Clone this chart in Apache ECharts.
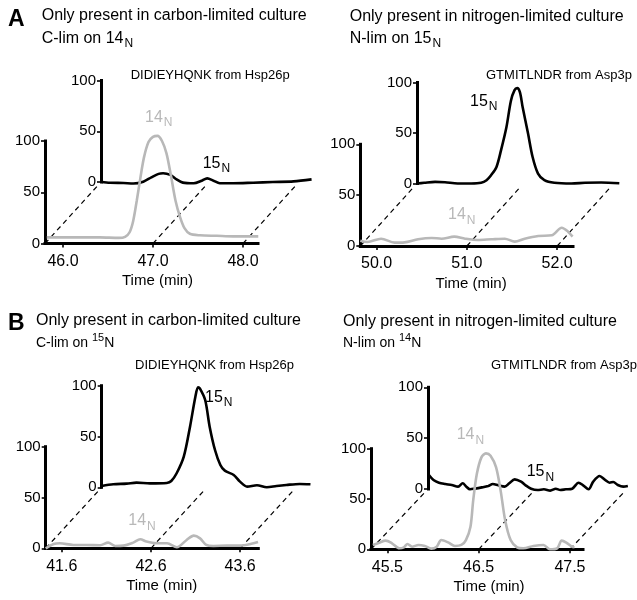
<!DOCTYPE html>
<html><head><meta charset="utf-8">
<script src="https://cdn.jsdelivr.net/npm/echarts@6/dist/echarts.min.js"></script>
<style>html,body{margin:0;padding:0;background:#fff}#c{width:637px;height:600px}</style>
</head><body><div id="c"></div>
<script>
// ---------------- DATA ----------------
const aLeftTicks = [46.0, 47.0, 48.0];
const aLeft14Time = [45.82,46.04,46.41,46.62,46.69,46.74,46.78,46.82,46.86,46.90,46.95,47.0,47.05,47.10,47.15,47.20,47.25,47.30,47.35,47.41,47.52,47.71,47.89,48.17];
const aLeft14Int  = [6,6,6,5.5,6.5,11,22,42,64,84,99,104,105,100,88,66,42,26,15,9.5,8,7.5,7,7];
const aLeft15Time = [45.8,45.9,46.05,46.16,46.27,46.36,46.44,46.49,46.57,46.64,46.71,46.83,46.92,46.98,47.05,47.12,47.27,47.49,47.71,47.94,48.14];
const aLeft15Int  = [0.3,-0.7,-1,-1.5,0.3,4.6,8,8.6,7,2.6,-0.6,-1.3,1.3,3.6,1.3,-1.3,-1.3,-0.7,0,0.6,2.6];

const aRightTicks = [50.0, 51.0, 52.0];
const aRight14Time = [49.82,49.90,50.05,50.20,50.31,50.46,50.61,50.72,50.86,50.98,51.12,51.27,51.42,51.53,51.64,51.79,51.94,52.05,52.12,52.17];
const aRight14Int  = [5.2,3.9,7.2,3.3,3.6,6.6,7.9,7.2,9.2,7.2,5.9,6.6,7.2,4.3,7.2,9.8,10.5,18,14.1,9.2];
const aRight15Time = [49.82,49.90,50.02,50.13,50.27,50.42,50.53,50.59,50.64,50.70,50.75,50.81,50.86,50.90,50.93,50.96,50.99,51.05,51.10,51.16,51.23,51.34,51.53,51.68,51.86,52.06];
const aRight15Int  = [0,0.7,1.6,1.3,0,0,0.7,3.3,8.2,16.4,32.8,55.7,82,92.5,94.4,90.2,75.4,49.2,26.2,9.8,3.3,0.7,0,0.7,1,0.3];

const bLeftTicks = [41.6, 42.6, 43.6];
const bLeft14Time = [41.42,41.51,41.58,41.73,41.88,42.03,42.12,42.20,42.29,42.40,42.48,42.55,42.66,42.78,42.89,43.0,43.08,43.15,43.22,43.30,43.45,43.60,43.75,43.80];
const bLeft14Int  = [0,4.3,4.9,3.3,3.3,3,5.6,2.3,2.6,5.6,8.9,6.6,4.9,4.9,1,8.2,12.5,9.8,3.3,2.3,2.6,2.6,4.9,6.2];
const bLeft15Time = [41.42,41.55,41.70,41.81,41.96,42.15,42.20,42.26,42.34,42.41,42.47,42.50,42.52,42.58,42.63,42.69,42.75,42.80,42.90,42.97,43.05,43.16,43.27,43.38,43.49,43.64,43.76];
const bLeft15Int  = [1.3,3,3.6,4.6,3.9,4.3,6.2,13.8,30.2,59.7,89.2,98.4,97.4,85.9,59.7,36.7,22,16.4,12.1,5.6,0.7,2,0,1.3,2.3,3.3,3];

const bRightTicks = [45.5, 46.5, 47.5];
const bRight14Time = [45.34,45.41,45.48,45.55,45.63,45.68,45.72,45.77,45.84,45.91,45.98,46.04,46.09,46.17,46.24,46.31,46.36,46.41,46.44,46.48,46.53,46.58,46.63,46.69,46.74,46.79,46.85,46.92,46.99,47.10,47.21,47.28,47.36,47.41,47.46,47.52,47.55];
const bRight14Int  = [4.3,6.6,8.6,6,1,2,5.3,2.6,4.3,3.3,0.7,2.6,9.2,6.6,3.3,4.3,9.2,22.4,48.7,75,91.4,95.4,93.1,81.6,58.6,28.9,9.2,2,1,3.3,4.3,0,1,8.6,6.6,2.6,2];
const bRight15Time = [45.33,45.38,45.44,45.51,45.58,45.65,45.70,45.74,45.78,45.83,45.91,45.98,46.03,46.09,46.16,46.21,46.27,46.34,46.39,46.45,46.52,46.59,46.66,46.72,46.77,46.83,46.90,46.97,47.02,47.08,47.13,47.20,47.26,47.31,47.35,47.40,47.46,47.51];
const bRight15Int  = [13.8,8.9,6.2,4.9,3.9,2.3,5.6,2.3,-0.3,0.3,1.6,3,4.9,3.6,2.3,5.6,9.5,7.2,3.6,0.3,-1,-0.3,-1.6,0.3,-1,-0.3,0.3,6.2,3.6,-0.3,7.2,12.8,8.9,6.2,6.9,3.9,2.3,3];

const yTicks = [0, 50, 100];
const panelTitles = ['Only present in carbon-limited culture','Only present in nitrogen-limited culture','Only present in carbon-limited culture','Only present in nitrogen-limited culture'];
const peptides = ['DIDIEYHQNK from Hsp26p','GTMITLNDR from Asp3p','DIDIEYHQNK from Hsp26p','GTMITLNDR from Asp3p'];
const xName = 'Time (min)';

// ---------------- LAYOUT / STYLE ----------------
const FONT = '"Liberation Sans", Arial, Helvetica, sans-serif';
const GRAY = '#b8b8b8';
const BLACK = '#000';
const panels = [
  {front:[45,141,213,102.5], back:[101,80.5,213,101.5], xmin:45.8, xmax:48.167, ticks:aLeftTicks, nameShift:6,
   frontSeries:[aLeft14Time,aLeft14Int], backSeries:[aLeft15Time,aLeft15Int]},
  {front:[360.3,144.3,212.7,101.7], back:[417,82.5,212.7,101], xmin:49.82, xmax:52.175, ticks:aRightTicks, nameShift:4.5,
   frontSeries:[aRight14Time,aRight14Int], backSeries:[aRight15Time,aRight15Int]},
  {front:[45.7,446.7,212.6,101.6], back:[101.7,385.7,212.6,101.6], xmin:41.42, xmax:43.803, ticks:bLeftTicks, nameShift:9.7,
   frontSeries:[bLeft14Time,bLeft14Int], backSeries:[bLeft15Time,bLeft15Int]},
  {front:[371,448.7,212,100.6], back:[428,387.3,212,101.7], xmin:45.32, xmax:47.643, ticks:bRightTicks, nameShift:12,
   frontSeries:[bRight14Time,bRight14Int], backSeries:[bRight15Time,bRight15Int]},
];

const zip = (a, b) => a.map((v, i) => [v, b[i]]);
const grids = [], xAxes = [], yAxes = [], series = [];
const yAxisBase = (gi) => ({
  type:'value', gridIndex:gi, min:yTicks[0], max:yTicks[2], interval:yTicks[1] - yTicks[0],
  axisLine:{show:true, onZero:false, lineStyle:{color:BLACK, width:3, cap:'square'}},
  axisTick:{show:true, length:4, lineStyle:{color:BLACK, width:1.6}},
  axisLabel:{color:BLACK, fontSize:15, fontFamily:FONT, margin:5},
  splitLine:{show:false}
});
panels.forEach((p, k) => {
  const fi = k * 2, bi = k * 2 + 1;
  grids.push({left:p.front[0], top:p.front[1], width:p.front[2], height:p.front[3], outerBoundsMode:'none'});
  grids.push({left:p.back[0], top:p.back[1], width:p.back[2], height:p.back[3], outerBoundsMode:'none'});
  xAxes.push({
    type:'value', gridIndex:fi, min:p.xmin, max:p.xmax,
    axisLine:{show:true, onZero:false, lineStyle:{color:BLACK, width:3, cap:'square'}},
    axisTick:{show:true, length:4, customValues:p.ticks, lineStyle:{color:BLACK, width:1.6}},
    axisLabel:{customValues:p.ticks, formatter:(v)=>Number(v).toFixed(1), color:BLACK, fontSize:16, fontFamily:FONT, margin:10},
    splitLine:{show:false},
    name:xName, nameLocation:'middle', nameGap:30,
    nameTextStyle:{color:BLACK, fontSize:15, fontFamily:FONT, padding:[0,0,0,p.nameShift*2]}
  });
  xAxes.push({type:'value', gridIndex:bi, min:p.xmin, max:p.xmax, show:false});
  yAxes.push(yAxisBase(fi));
  yAxes.push(yAxisBase(bi));
  series.push({type:'line', xAxisIndex:bi, yAxisIndex:bi, data:zip(p.backSeries[0], p.backSeries[1]),
    showSymbol:false, symbol:'none', smooth:0.3, clip:false, z:3, silent:true,
    lineStyle:{color:BLACK, width:2.6}});
  series.push({type:'line', xAxisIndex:fi, yAxisIndex:fi, data:zip(p.frontSeries[0], p.frontSeries[1]),
    showSymbol:false, symbol:'none', smooth:0.3, clip:false, z:4, silent:true,
    lineStyle:{color:GRAY, width:2.6}});
});

const chart = echarts.init(document.getElementById('c'), null, {renderer:'canvas'});
chart.setOption({
  animation:false,
  backgroundColor:'#fff',
  textStyle:{fontFamily:FONT},
  grid:grids, xAxis:xAxes, yAxis:yAxes, series:series
});

// ---------------- TEXT + DASHED GUIDES ----------------
function txt(x, y, text, size, color, weight) {
  return {type:'text', x:x, y:y, z:10, silent:true,
    style:{text:text, fontSize:size, fontWeight:weight || 'normal', fontFamily:FONT, fill:color, align:'left', verticalAlign:'middle',
      textAlign:'left', textVerticalAlign:'middle'}};
}
function subLabel(x, y, num, color, size) {
  return {type:'text', x:x, y:y, z:10, silent:true,
    style:{text:'{n|' + num + '}{s|N}', fill:color, align:'left', verticalAlign:'middle', textAlign:'left', textVerticalAlign:'middle',
      rich:{n:{fontSize:size || 16, fontFamily:FONT, fill:color}, s:{fontSize:12, fontFamily:FONT, fill:color, padding:[11,0,0,1]}}}};
}
function subTitleSub(x, y, pre, num) {
  return {type:'text', x:x, y:y, z:10, silent:true,
    style:{text:'{n|' + pre + num + '}{s|N}', fill:BLACK, align:'left', verticalAlign:'middle', textAlign:'left', textVerticalAlign:'middle',
      rich:{n:{fontSize:16, fontFamily:FONT, fill:BLACK}, s:{fontSize:12, fontFamily:FONT, fill:BLACK, padding:[11,0,0,1]}}}};
}
function subTitleSup(x, y, pre, num) {
  return {type:'text', x:x, y:y, z:10, silent:true,
    style:{text:'{n|' + pre + '}{u|' + num + '}{n|N}', fill:BLACK, align:'left', verticalAlign:'middle', textAlign:'left', textVerticalAlign:'middle',
      rich:{n:{fontSize:14, fontFamily:FONT, fill:BLACK}, u:{fontSize:11, fontFamily:FONT, fill:BLACK, padding:[0,0,10,0]}}}};
}

const graphics = [
  txt(8, 20, 'A', 23, BLACK, 'bold'),
  txt(41.7, 16, panelTitles[0], 16, BLACK),
  subTitleSub(41.7, 38.5, 'C-lim on ', '14'),
  txt(349.7, 16.7, panelTitles[1], 16, BLACK),
  subTitleSub(349.7, 38.3, 'N-lim on ', '15'),
  txt(8, 323.3, 'B', 23, BLACK, 'bold'),
  txt(36, 321, panelTitles[2], 16, BLACK),
  subTitleSup(36, 343, 'C-lim on ', '15'),
  txt(343, 321.7, panelTitles[3], 16, BLACK),
  subTitleSup(343, 343, 'N-lim on ', '14'),
  txt(130.7, 75, peptides[0], 13, BLACK),
  txt(486, 75, peptides[1], 13, BLACK),
  txt(135, 365, peptides[2], 13, BLACK),
  txt(491, 365, peptides[3], 13, BLACK),
  subLabel(145, 117.5, '14', GRAY),
  subLabel(202.7, 163.3, '15', BLACK),
  subLabel(470, 101.5, '15', BLACK),
  subLabel(448, 215, '14', GRAY),
  subLabel(205, 397.5, '15', BLACK),
  subLabel(128.3, 521, '14', GRAY),
  subLabel(456.7, 435, '14', GRAY),
  subLabel(526.7, 471.7, '15', BLACK)
];

panels.forEach((p, k) => {
  const fi = k * 2, bi = k * 2 + 1;
  const anchors = [p.xmin, p.ticks[1], p.ticks[2]];
  anchors.forEach((t) => {
    const a = chart.convertToPixel({xAxisIndex:fi, yAxisIndex:fi}, [t, 0]);
    const b = chart.convertToPixel({xAxisIndex:bi, yAxisIndex:bi}, [t, 0]);
    const f = 0.93;
    graphics.push({type:'line', z:1, silent:true,
      shape:{x1:a[0], y1:a[1], x2:a[0] + (b[0]-a[0])*f, y2:a[1] + (b[1]-a[1])*f},
      style:{stroke:BLACK, lineWidth:1.2, lineDash:[5,4]}});
  });
});

chart.setOption({graphic:graphics});
</script>
</body></html>
